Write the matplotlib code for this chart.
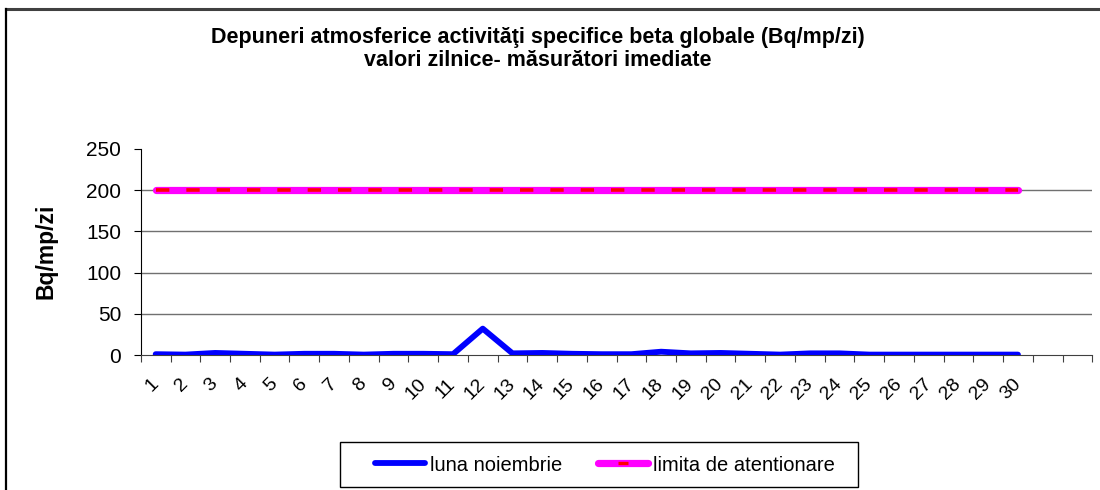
import matplotlib
matplotlib.use("Agg")
import matplotlib.pyplot as plt
from matplotlib.lines import Line2D
from matplotlib.patches import Rectangle
from matplotlib.legend_handler import HandlerTuple
import numpy as np

plt.rcParams['font.family'] = ['Liberation Sans', 'DejaVu Sans']

# data
zile = list(range(1, 31))
luna_noiembrie = [1, 0.5, 2.5, 1.5, 0.5, 1.5, 1.5, 0.5, 1.5, 1.5,
                  1, 32, 2, 2.5, 1.5, 1, 1, 4, 2, 2.5,
                  1.5, 0.5, 2, 2, 0.5, 0.5, 0.5, 0.5, 0.5, 0.5]
limita = [200] * 30
n_categorii = 32   # axa are 2 categorii goale dupa ziua 30

titlu = ("Depuneri atmosferice activităţi specifice beta globale (Bq/mp/zi)\n"
         "valori zilnice- măsurători imediate")

fig = plt.figure(figsize=(11, 4.9), dpi=100)
ax = fig.add_axes([0.128, 0.2755, 0.865, 0.4205])

# chenar exterior (doar sus si stanga se vad)
fig.add_artist(Line2D([0.005, 1.0], [0.982, 0.982], transform=fig.transFigure,
                      color='#404040', lw=2.2))
fig.add_artist(Line2D([0.0055, 0.0055], [0.0, 0.982], transform=fig.transFigure,
                      color='black', lw=1.6))

x = np.array(zile)
ax.plot(x, luna_noiembrie, color='#0000ff', lw=4.2, solid_capstyle='round',
        solid_joinstyle='round', zorder=3)
ax.plot(x, limita, color='#ff00ff', lw=5.2, solid_capstyle='round', zorder=3)
ax.plot(x, limita, color='#ff0000', lw=2.6, dashes=(3.7, 4.7),
        dash_capstyle='butt', zorder=4)

ax.set_xlim(0.5, n_categorii + 0.5)
ax.set_ylim(0, 250)
ax.set_yticks([0, 50, 100, 150, 200, 250])
ax.set_yticklabels(['0', '50', '100', '150', '200', '250'], fontsize=15)
for v in [50, 100, 150, 200]:
    ax.axhline(v, color='#707070', lw=1.0, zorder=1)

ax.set_xticks(np.arange(0.5, n_categorii + 1, 1))
ax.set_xticklabels([])
ax.set_xticks(x, minor=True)
ax.set_xticklabels([str(z) for z in zile], minor=True, rotation=45,
                   ha='right', va='center', rotation_mode='anchor', fontsize=14)
ax.tick_params(axis='x', which='minor', length=0, pad=19)
ax.tick_params(axis='x', which='major', length=5, color='#404040', direction='out')
ax.tick_params(axis='y', length=5, pad=9, direction='out')

for s in ['top', 'right']:
    ax.spines[s].set_visible(False)
ax.spines['left'].set_color('black')
ax.spines['bottom'].set_color('#404040')

ax.set_ylabel('Bq/mp/zi', fontsize=16.5, fontweight='bold')
ax.yaxis.set_label_coords(-0.088, 0.505)

fig.text(0.489, 0.9, titlu, ha='center', va='center', fontsize=15.5,
         fontweight='bold', linespacing=1.12)

# legenda: chenarul separat, ca in Excel
fig.add_artist(Rectangle((340 / 1100, 1 - 487 / 490), 518 / 1100, 45 / 490,
                         transform=fig.transFigure, fill=False,
                         edgecolor='black', lw=1.0))
h_albastru = Line2D([], [], color='#0000ff', lw=4.2, solid_capstyle='round')
h_mag = Line2D([], [], color='#ff00ff', lw=5.2, solid_capstyle='round')
h_rosu = Line2D([], [], color='#ff0000', linestyle='none', marker='_',
                markersize=7, markeredgewidth=2.4)
leg = fig.legend([h_albastru, (h_mag, h_rosu)], ['luna noiembrie', 'limita de atentionare'],
                 handler_map={tuple: HandlerTuple(ndivide=1)},
                 loc='center left', bbox_to_anchor=(375 / 1100, 1 - 465 / 490), ncol=2,
                 fontsize=14.5, frameon=False, handlelength=2.5, handletextpad=0.25,
                 columnspacing=1.75, borderpad=0, borderaxespad=0, numpoints=1)

fig.savefig('out.png', dpi=100)
